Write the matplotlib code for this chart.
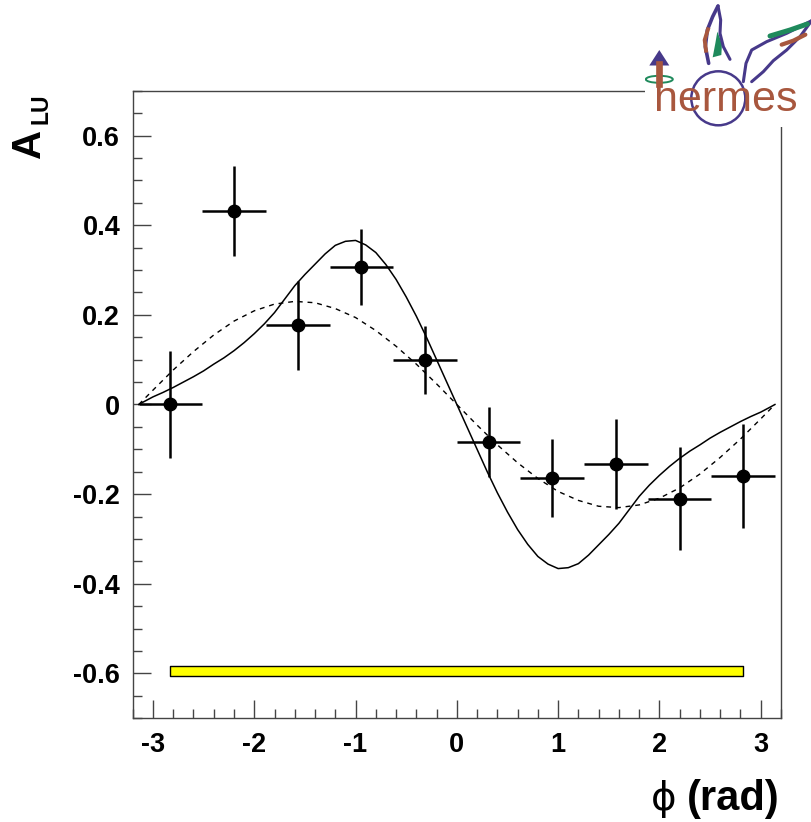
import matplotlib
matplotlib.use("Agg")
import matplotlib.pyplot as plt
from matplotlib.ticker import MultipleLocator, FuncFormatter
from matplotlib.font_manager import FontProperties
from matplotlib.patches import Rectangle, Ellipse, Circle, Polygon

# ---- measured asymmetry per phi bin ----
phi_bins = [-2.827, -2.199, -1.571, -0.942, -0.314, 0.314, 0.942, 1.571, 2.199, 2.827]
alu = [0.000, 0.432, 0.177, 0.307, 0.099, -0.083, -0.164, -0.132, -0.210, -0.159]
stat_err = [0.119, 0.101, 0.099, 0.085, 0.076, 0.078, 0.086, 0.100, 0.115, 0.116]
bin_half_width = [0.314] * 10

# systematic uncertainty band
sys_base = -0.605
sys_err = [0.022] * 10

# ---- model curves sampled in phi ----
phi_fine = [-3.14, -3.1, -3.0, -2.9, -2.8, -2.7, -2.6, -2.5, -2.4, -2.3, -2.2, -2.1,
            -2.0, -1.9, -1.8, -1.7, -1.6, -1.5, -1.4, -1.3, -1.2, -1.1, -1.0, -0.9,
            -0.8, -0.7, -0.6, -0.5, -0.4, -0.3, -0.2, -0.1, 0.0, 0.1, 0.2, 0.3, 0.4,
            0.5, 0.6, 0.7, 0.8, 0.9, 1.0, 1.1, 1.2, 1.3, 1.4, 1.5, 1.6, 1.7, 1.8,
            1.9, 2.0, 2.1, 2.2, 2.3, 2.4, 2.5, 2.6, 2.7, 2.8, 2.9, 3.0, 3.1, 3.14]
model_solid = [0.000, 0.005, 0.017, 0.027, 0.038, 0.050, 0.062, 0.075, 0.090, 0.104,
               0.120, 0.138, 0.158, 0.180, 0.205, 0.235, 0.265, 0.290, 0.313, 0.336,
               0.355, 0.364, 0.366, 0.356, 0.339, 0.312, 0.279, 0.240, 0.197, 0.150,
               0.100, 0.050, 0.000, -0.050, -0.100, -0.150, -0.197, -0.240, -0.279,
               -0.312, -0.339, -0.356, -0.366, -0.364, -0.355, -0.336, -0.313, -0.290,
               -0.265, -0.235, -0.205, -0.180, -0.158, -0.138, -0.120, -0.104, -0.090,
               -0.075, -0.062, -0.050, -0.038, -0.027, -0.017, -0.005, 0.000]

phi_grid = [-3.14, -3.0, -2.8, -2.6, -2.4, -2.2, -2.0, -1.8, -1.6, -1.4, -1.2, -1.0,
            -0.8, -0.6, -0.4, -0.2, 0.0, 0.2, 0.4, 0.6, 0.8, 1.0, 1.2, 1.4, 1.6,
            1.8, 2.0, 2.2, 2.4, 2.6, 2.8, 3.0, 3.14]
model_dashed = [0.000, 0.032, 0.077, 0.118, 0.155, 0.186, 0.209, 0.224, 0.230, 0.227,
                0.214, 0.194, 0.165, 0.130, 0.090, 0.046, 0.000, -0.046, -0.090, -0.130,
                -0.165, -0.194, -0.214, -0.227, -0.230, -0.224, -0.209, -0.186, -0.155,
                -0.118, -0.077, -0.032, 0.000]

x_ticks = [-3, -2, -1, 0, 1, 2, 3]
y_ticks = [-0.6, -0.4, -0.2, 0.0, 0.2, 0.4, 0.6]

W, H = 812, 822
BOLD = dict(family="Liberation Sans", weight="bold")

fig = plt.figure(figsize=(W / 100, H / 100), dpi=100)
fig.patch.set_facecolor("white")

L, R, T, B = 132.7, 781.0, 90.7, 718.3
ax = fig.add_axes([L / W, 1 - B / H, (R - L) / W, (B - T) / H])
ax.set_xlim(-3.2, 3.2)
ax.set_ylim(-0.7, 0.7)

for s in ax.spines.values():
    s.set_color("#444444")
    s.set_linewidth(1.0)

ax.set_xticks(x_ticks)
ax.set_yticks(y_ticks)
ax.xaxis.set_minor_locator(MultipleLocator(0.2))
ax.yaxis.set_minor_locator(MultipleLocator(0.05))
ax.tick_params(which="both", direction="in", top=False, right=False, color="#444444", width=1.0)
ax.tick_params(which="major", length=13)
ax.tick_params(which="minor", length=6.5)
ax.tick_params(axis="x", which="major", pad=10)
ax.tick_params(axis="y", which="major", pad=9)
ax.xaxis.set_major_formatter(FuncFormatter(lambda v, p: "%d" % round(v)))
ax.yaxis.set_major_formatter(FuncFormatter(lambda v, p: "0" if abs(v) < 1e-9 else "%.1f" % v))
tick_font = FontProperties(**BOLD, size=19.5)
for lab in ax.get_xticklabels() + ax.get_yticklabels():
    lab.set_fontproperties(tick_font)

# systematic band
ax.fill_between(phi_bins, [sys_base] * len(phi_bins),
                [sys_base + e for e in sys_err],
                facecolor="#ffff00", edgecolor="black", linewidth=1.0, zorder=2)

# model curves
ax.plot(phi_fine, model_solid, color="black", lw=1.1, zorder=3)
ax.plot(phi_grid, model_dashed, color="black", lw=1.0, linestyle=(0, (3.5, 3.5)), zorder=3)

# data
ax.errorbar(phi_bins, alu, yerr=stat_err, xerr=bin_half_width, fmt="o", color="black",
            markersize=9, elinewidth=1.8, capsize=0, zorder=4)

# axis titles
fig.text(29 / W, 1 - 143 / H, "A", rotation=90, ha="center", va="center", size=29, **BOLD)
fig.text(41 / W, 1 - 109 / H, "LU", rotation=90, ha="center", va="center", size=16.5, **BOLD)
fig.text(664 / W, 1 - 810 / H, "\u03d5", ha="center", va="baseline", size=28,
         family="DejaVu Sans")
fig.text(780 / W, 1 - 810 / H, "(rad)", ha="right", va="baseline", size=30, **BOLD)

# ---- logo in the upper right corner ----
lx0, ly0, lx1, ly1 = 645, 0, 812, 127
lax = fig.add_axes([lx0 / W, 1 - ly1 / H, (lx1 - lx0) / W, (ly1 - ly0) / H])
lax.set_xlim(lx0, lx1)
lax.set_ylim(ly1, ly0)
lax.set_facecolor("white")
lax.axis("off")
lax.add_patch(Rectangle((lx0, ly0), lx1 - lx0, ly1 - ly0, facecolor="white", edgecolor="none"))

purple = "#47398a"
green = "#1f8a5c"
brown = "#a8573e"


def zp(pts):
    return [(630 + x / 3.0, y / 3.0) for x, y in pts]


lax.add_patch(Circle((718.3, 98.3), 27, fill=False, edgecolor=purple, lw=1.8))

# left wing
lw_out = zp([(236, 190), (226, 140), (232, 90), (248, 50), (264, 18)])
lw_in = zp([(264, 18), (272, 60), (270, 100), (280, 140), (300, 178)])
lax.plot(*zip(*lw_out), color=purple, lw=2.6, solid_capstyle="round")
lax.plot(*zip(*lw_in), color=purple, lw=2.2, solid_capstyle="round")
lax.add_patch(Polygon(zp([(262, 95), (276, 130), (274, 165), (248, 172), (256, 130)]),
                      facecolor=green, edgecolor="none"))
lax.plot(*zip(*zp([(234, 88), (224, 120), (228, 152)])), color=brown, lw=2.8)

# right wing
rw_top = zp([(340, 245), (348, 190), (365, 150), (410, 125), (470, 100), (545, 62)])
rw_bot = zp([(545, 62), (510, 110), (470, 150), (430, 182), (400, 215), (365, 245)])
lax.plot(*zip(*rw_top), color=purple, lw=2.2, solid_capstyle="round")
lax.plot(*zip(*rw_bot), color=purple, lw=2.2, solid_capstyle="round")
lax.plot(*zip(*zp([(420, 108), (480, 90), (532, 72)])), color=green, lw=3.6,
         solid_capstyle="round")
lax.plot(*zip(*zp([(455, 134), (490, 122), (526, 104)])), color=brown, lw=3.0,
         solid_capstyle="round")

# spin arrow
lax.plot([659.5, 659.5], [64, 84], color=brown, lw=4.8)
lax.add_patch(Polygon([(659.3, 50), (649.3, 65.5), (669.3, 65.5)], facecolor=purple,
                      edgecolor="none"))
lax.add_patch(Ellipse((659.3, 79.3), 27, 7, fill=False, edgecolor=green, lw=1.4))

lax.text(654, 111, "hermes", color=brown, size=31, family="Liberation Sans",
         ha="left", va="baseline")

fig.savefig("out.png", dpi=100, facecolor="white")
